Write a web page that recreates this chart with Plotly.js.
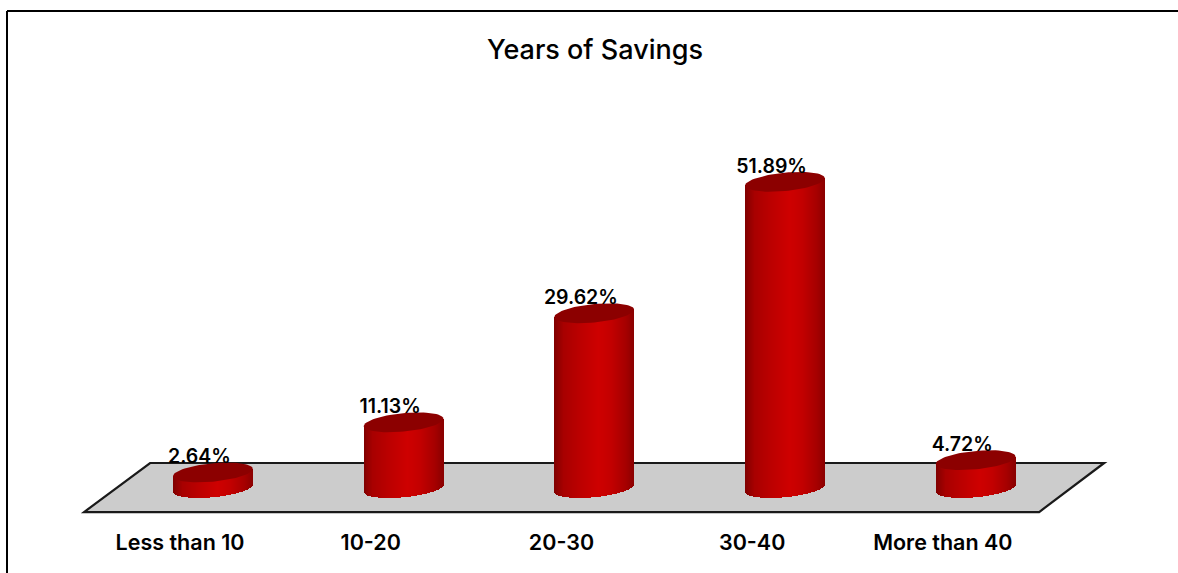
<!DOCTYPE html>
<html>
<head>
<meta charset="utf-8">
<script src="https://cdn.plot.ly/plotly-3.0.1.min.js"></script>
<style>html,body{margin:0;padding:0;background:#fff}#chart{width:1178px;height:573px}</style>
</head>
<body>
<div id="chart"></div>
<script>
// Survey shares by years of savings
const categories = ['Less than 10', '10-20', '20-30', '30-40', 'More than 40'];
const shares = [2.64, 11.13, 29.62, 51.89, 4.72];
const shareLabels = ['2.64%', '11.13%', '29.62%', '51.89%', '4.72%'];

// Floor parallelogram and pseudo-3D proportions, in axis units
const floorX = [-0.675, 4.333, 4.674, -0.329];
const floorY = [-4.07, -4.07, 4.24, 4.24];
const tickShift = -0.172;
const labelShiftX = -0.07;
const labelShiftY = 2.4;
const radiusX = 0.209;
const tiltY = 0.62;
const radiusY = 1.56;

// Cylinder shading stops from the left edge to the right edge
const shadeStops = [
  [0.00, [128, 0, 0]], [0.12, [168, 0, 0]], [0.35, [190, 0, 0]],
  [0.56, [206, 0, 0]], [0.72, [194, 0, 0]], [0.90, [165, 0, 0]], [1.00, [138, 0, 0]]
];

function shade(t) {
  for (let k = 1; k < shadeStops.length; k++) {
    const [t1, c1] = shadeStops[k];
    const [t0, c0] = shadeStops[k - 1];
    if (t <= t1) {
      const f = (t - t0) / (t1 - t0);
      return 'rgb(' + c0.map((c, j) => Math.round(c + (c1[j] - c) * f)).join(',') + ')';
    }
  }
  return 'rgb(138,0,0)';
}

const sliceCount = 80;
const traces = [];

// Cylinder walls: one thin bar per shading step, its foot following the front rim
categories.forEach((name, i) => {
  const xs = [], bases = [], heights = [], colors = [];
  for (let s = 0; s < sliceCount; s++) {
    const t = (s + 0.5) / sliceCount;
    const u = 2 * t - 1;
    const foot = tiltY * u - radiusY * Math.sqrt(1 - u * u);
    xs.push(i + u * radiusX);
    bases.push(foot);
    heights.push(shares[i] + tiltY * u - foot);
    colors.push(shade(t));
  }
  traces.push({
    type: 'bar', x: xs, y: heights, base: bases,
    width: 2 * radiusX / sliceCount * 1.35,
    marker: {color: colors, line: {width: 0}},
    hoverinfo: 'skip', showlegend: false
  });
});

// Cylinder caps
categories.forEach((name, i) => {
  const xs = [], ys = [];
  for (let a = 0; a <= 72; a++) {
    const r = a / 72 * 2 * Math.PI;
    xs.push(i + radiusX * Math.cos(r));
    ys.push(shares[i] + tiltY * Math.cos(r) + radiusY * Math.sin(r));
  }
  traces.push({
    type: 'scatter', mode: 'lines', x: xs, y: ys, fill: 'toself',
    fillcolor: '#8c0000', line: {width: 0, color: '#8c0000'},
    hoverinfo: 'skip', showlegend: false
  });
});

// Value labels above each cap
traces.push({
  type: 'scatter', mode: 'text',
  x: categories.map((_, i) => i + labelShiftX),
  y: shares.map(v => v + labelShiftY),
  text: shareLabels,
  textposition: 'middle center',
  textfont: {family: 'Inter, sans-serif', size: 19.5, color: '#000', weight: 600},
  hoverinfo: 'skip', showlegend: false
});

const floorPath = 'M' + floorX.map((x, i) => x + ',' + floorY[i]).join('L') + 'Z';

// Plot area sits a little outside the floor so its outline is not clipped
const plotW = 1050, plotH = 420, plotL = 70, plotB = 520;

const layout = {
  width: 1178, height: 573,
  margin: {l: plotL, r: 1178 - plotL - plotW, t: plotB - plotH, b: 573 - plotB},
  paper_bgcolor: '#fff', plot_bgcolor: 'rgba(0,0,0,0)',
  showlegend: false,
  bargap: 0,
  barmode: 'overlay',
  title: {
    text: 'Years of Savings',
    font: {family: 'Inter, sans-serif', size: 27, color: '#000', weight: 500},
    x: 595 / 1178, xanchor: 'center', y: 1 - 50 / 573, yanchor: 'middle'
  },
  xaxis: {
    range: [-0.749, 4.757],
    tickmode: 'array',
    tickvals: categories.map((_, i) => i + tickShift),
    ticktext: categories,
    tickfont: {family: 'Inter, sans-serif', size: 21.5, color: '#000', weight: 600},
    ticks: '', ticklabelstandoff: 7,
    showgrid: false, zeroline: false, showline: false, fixedrange: true
  },
  yaxis: {
    range: [-5.42, 65.76],
    showticklabels: false, ticks: '',
    showgrid: false, zeroline: false, showline: false, fixedrange: true
  },
  shapes: [
    {type: 'path', path: floorPath, xref: 'x', yref: 'y', layer: 'below',
     fillcolor: '#cccccc', line: {color: '#1a1a1a', width: 2.2}},
    {type: 'line', xref: 'paper', yref: 'paper',
     x0: (7 - plotL) / plotW, x1: (1178 - plotL) / plotW, y0: (plotB - 11) / plotH, y1: (plotB - 11) / plotH,
     line: {color: '#000', width: 2}},
    {type: 'line', xref: 'paper', yref: 'paper',
     x0: (7 - plotL) / plotW, x1: (7 - plotL) / plotW, y0: (plotB - 11) / plotH, y1: (plotB - 573) / plotH,
     line: {color: '#000', width: 2}}
  ]
};

Plotly.newPlot('chart', traces, layout, {displayModeBar: false, staticPlot: true});
</script>
</body>
</html>
